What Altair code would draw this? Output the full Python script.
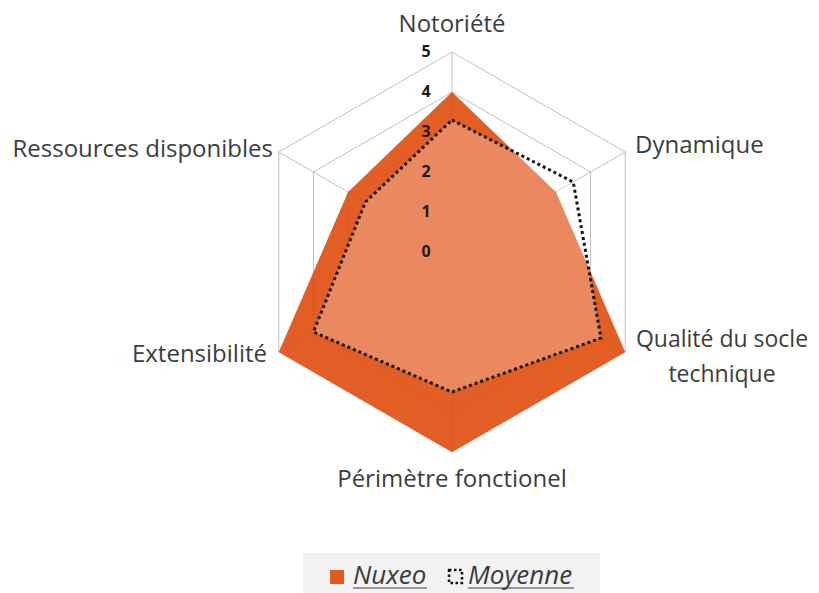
import altair as alt
import pandas as pd

# ---------------- data ----------------
categories = ["Notoriété", "Dynamique", "Qualité du socle\ntechnique",
              "Périmètre fonctionel", "Extensibilité", "Ressources disponibles"]
nuxeo = [4.0, 3.0, 5.0, 5.0, 5.0, 3.0]
moyenne = [3.3, 3.5, 4.3, 3.5, 4.0, 2.5]
series_names = ["Nuxeo", "Moyenne"]
levels = [0, 1, 2, 3, 4, 5]
tick_labels = ["0", "1", "2", "3", "4", "5"]

# ---------------- layout ----------------
W, H = 803, 585
CX, CY = 444, 244          # centre of the radar in plot pixels
UNIT = 40                  # pixels per value unit
xs = alt.Scale(domain=[-CX / UNIT, (W - CX) / UNIT], nice=False, zero=False)
ys = alt.Scale(domain=[-(H - CY) / UNIT, CY / UNIT], nice=False, zero=False)
LABEL_FONT = "Open Sans"


def X(f):
    return alt.X(f, type="quantitative", scale=xs, axis=None)


def Y(f):
    return alt.Y(f, type="quantitative", scale=ys, axis=None)


ANG = "PI*(90-60*datum.idx)/180"

rows = []
for s, vals in zip(series_names, [nuxeo, moyenne]):
    for i, (c, v) in enumerate(zip(categories, vals)):
        rows.append({"series": s, "idx": i, "category": c, "value": v})
df = pd.DataFrame(rows)

grid_rows = []
for lv in levels[1:]:
    for i in range(len(categories)):
        grid_rows.append({"level": lv, "idx": i, "value": lv})
grid_df = pd.DataFrame(grid_rows)

spoke_df = pd.DataFrame({"idx": list(range(len(categories))),
                         "value": [levels[-1]] * len(categories)})
tick_df = pd.DataFrame({"level": levels, "label": tick_labels})


def polar(chart):
    return (chart.transform_calculate(ang=ANG)
            .transform_calculate(px="datum.value*cos(datum.ang)",
                                 py="datum.value*sin(datum.ang)",
                                 zero="0"))


grid = polar(alt.Chart(grid_df)).mark_line(
    interpolate="linear-closed", color="#C0C0C0", strokeWidth=1
).encode(x=X("px"), y=Y("py"), detail="level:N", order=alt.Order("idx:Q"))

spokes = polar(alt.Chart(spoke_df)).mark_rule(color="#C0C0C0", strokeWidth=1).encode(
    x=X("zero"), y=Y("zero"), x2="px", y2="py")

nux = polar(alt.Chart(df)).transform_filter(alt.datum.series == "Nuxeo").mark_line(
    interpolate="linear-closed", fill="#E04D0C", fillOpacity=0.9, strokeWidth=0
).encode(x=X("px"), y=Y("py"), order=alt.Order("idx:Q"))

moy = polar(alt.Chart(df)).transform_filter(alt.datum.series == "Moyenne").mark_line(
    interpolate="linear-closed", fill="#FFFFFF", fillOpacity=0.27,
    stroke="#111111", strokeWidth=3, strokeDash=[3, 3]
).encode(x=X("px"), y=Y("py"), order=alt.Order("idx:Q"))

ticks = alt.Chart(tick_df).transform_calculate(zero="0").mark_text(
    font=LABEL_FONT, fontSize=16, fontWeight="bold", color="#1A1A1A",
    align="center", baseline="middle", dx=-26
).encode(x=X("zero"), y=Y("level"), text="label:N")

# category labels: anchor (data units), alignment, font size
lab_df = pd.DataFrame({"category": categories, "idx": list(range(len(categories)))})
anchors = {0: (0.0, 5.49, "center", 24), 1: (4.575, 2.475, "left", 24),
           2: (6.75, -2.375, "center", 23), 3: (0.0, -5.875, "center", 24),
           4: (-4.625, -2.75, "right", 24), 5: (-4.475, 2.375, "right", 24)}
label_layers = []
for align, fs in [("left", 24), ("center", 24), ("center", 23), ("right", 24)]:
    ids = [k for k, a in anchors.items() if a[2] == align and a[3] == fs]
    sub = lab_df[lab_df.idx.isin(ids)].copy()
    sub["lx"] = [anchors[k][0] for k in sub.idx]
    sub["ly"] = [anchors[k][1] for k in sub.idx]
    label_layers.append(alt.Chart(sub).mark_text(
        font=LABEL_FONT, fontSize=fs, color="#3C3C3C", align=align,
        baseline="alphabetic", lineBreak="\n", lineHeight=35
    ).encode(x=X("lx"), y=Y("ly"), text="category:N"))

# legend (pixel positions)
leg_df = pd.DataFrame({"series": series_names})
leg_bg = alt.Chart(leg_df.head(1)).mark_rect(color="#F2F2F2").encode(
    x=alt.value(295), x2=alt.value(592), y=alt.value(545), y2=alt.value(600))
leg_sq1 = alt.Chart(leg_df.head(1)).mark_rect(color="#E3591C").encode(
    x=alt.value(322), x2=alt.value(336), y=alt.value(562), y2=alt.value(576))
leg_sq2 = alt.Chart(leg_df.head(1)).mark_rect(
    fill="#F2F2F2", stroke="#111111", strokeWidth=2.5, strokeDash=[2.5, 2.5]).encode(
    x=alt.value(441), x2=alt.value(454), y=alt.value(562), y2=alt.value(575))
leg_t1 = alt.Chart(leg_df[leg_df.series == "Nuxeo"]).mark_text(
    font=LABEL_FONT, fontSize=26, fontStyle="italic", color="#3C3C3C",
    align="left", baseline="alphabetic").encode(
    x=alt.value(345), y=alt.value(576), text="series:N")
leg_t2 = alt.Chart(leg_df[leg_df.series == "Moyenne"]).mark_text(
    font=LABEL_FONT, fontSize=26, fontStyle="italic", color="#3C3C3C",
    align="left", baseline="alphabetic").encode(
    x=alt.value(460), y=alt.value(576), text="series:N")
leg_u1 = alt.Chart(leg_df.head(1)).mark_rule(color="#3C3C3C", strokeWidth=1).encode(
    x=alt.value(345), x2=alt.value(419), y=alt.value(580))
leg_u2 = alt.Chart(leg_df.head(1)).mark_rule(color="#3C3C3C", strokeWidth=1).encode(
    x=alt.value(460), x2=alt.value(566), y=alt.value(580))

chart = alt.layer(
    leg_bg, grid, spokes, nux, moy, ticks, *label_layers,
    leg_sq1, leg_sq2, leg_t1, leg_t2, leg_u1, leg_u2
).properties(
    width=W, height=H, autosize=alt.AutoSizeParams(type="none"), padding=0
).configure_view(strokeWidth=0)

chart.save("out.html", embed_options={"renderer": "svg", "actions": False})
